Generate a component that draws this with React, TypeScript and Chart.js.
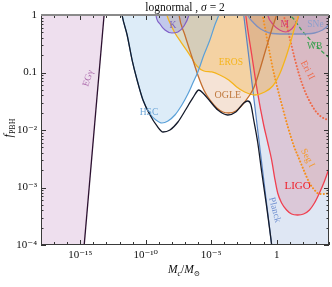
import { useEffect, useRef } from 'react';
import { Chart, registerables } from 'chart.js';

Chart.register(...registerables);

const SERIF = "'Liberation Serif', 'Times New Roman', 'DejaVu Serif', serif";

// Axis ticks
const xTickExps = [-15, -10, -5, 0];
const xTickLabels = ['10⁻¹⁵', '10⁻¹⁰', '10⁻⁵', '1'];
const yTickExps = [-4, -3, -2, -1, 0];
const yTickLabels = ['10⁻⁴', '10⁻³', '10⁻²', '0.1', '1'];

// Curves: log10(Mc/Msun) and log10(f_PBH)
const blackLogM = [-11.92, -11.81, -11.42, -11.04, -10.66, -10.21, -9.67, -9.14, -8.68, -8.15, -7.54, -7.01, -6.40, -5.94, -5.56, -5.10, -4.49, -3.73, -3.12, -2.51, -2.21, -1.98, -1.75, -1.45, -1.14, -0.76, -0.38, -0.27];
const blackLogF = [0.174, 0, -0.348, -0.783, -1.130, -1.478, -1.739, -1.930, -2.035, -2.000, -1.861, -1.670, -1.443, -1.304, -1.374, -1.496, -1.652, -1.739, -1.687, -1.530, -1.496, -1.548, -1.826, -2.209, -2.730, -3.339, -4.0, -4.226];

const egLogM = [-18.5, -15.08, -12.99];
const egLogF = [-14.0, -5.0, 0.5];

const hscLogM = [-11.92, -11.81, -11.42, -11.04, -10.66, -10.21, -9.67, -9.22, -8.76, -8.30, -7.77, -7.24, -6.78, -6.40, -6.02, -5.56, -5.10, -4.72, -4.42, -4.19];
const hscLogF = [0.174, 0, -0.348, -0.783, -1.130, -1.478, -1.722, -1.826, -1.878, -1.843, -1.739, -1.565, -1.374, -1.183, -0.991, -0.696, -0.435, -0.174, 0, 0.174];

const kLogM = [-9.29, -9.22, -8.91, -8.53, -8.00, -7.54, -7.08, -6.70, -6.55];
const kLogF = [0.174, 0, -0.157, -0.261, -0.313, -0.296, -0.191, 0, 0.174];

const ogleLogM = [-7.54, -7.46, -7.01, -6.47, -6.02, -5.56, -5.10, -4.57, -4.11, -3.66, -3.12, -2.44, -1.75, -1.29, -0.84, -0.38, 0, 0.23];
const ogleLogF = [0.174, 0, -0.348, -0.730, -1.043, -1.304, -1.478, -1.617, -1.687, -1.704, -1.670, -1.513, -1.270, -0.957, -0.609, -0.261, 0, 0.174];

const erosLogM = [-8.53, -8.38, -8.07, -7.77, -7.31, -6.63, -6.09, -5.56, -4.95, -4.34, -3.66, -3.05, -2.44, -1.68, -0.91, -0.30, 0.23, 0.69, 1.07, 1.37, 1.68, 1.83];
const erosLogF = [0.174, 0, -0.174, -0.313, -0.470, -0.696, -0.887, -0.974, -0.991, -1.043, -1.130, -1.252, -1.339, -1.391, -1.339, -1.235, -1.026, -0.748, -0.470, -0.226, 0, 0.174];

const planckLogM = [-2.78, -0.38, 0.15, 4.5];
const planckLogF = [0.5, -4.0, -5.0, -20];

const ligoLogM = [-2.44, -2.36, -1.90, -1.45, -0.99, -0.69, -0.38, -0.15, 0.08, 0.38, 0.76, 1.14, 1.60, 2.06, 2.51, 2.89, 3.27, 3.66, 3.96, 4.34];
const ligoLogF = [0.174, 0, -0.696, -1.357, -1.913, -2.209, -2.522, -2.835, -3.096, -3.270, -3.391, -3.461, -3.478, -3.461, -3.391, -3.270, -3.096, -2.887, -2.696, -2.435];

const sneLogM = [-2.44, -2.21, -1.75, -1.22, -0.53, 0.61, 1.75, 2.89, 3.50, 3.96, 4.49];
const sneLogF = [0.174, 0, -0.139, -0.243, -0.313, -0.330, -0.330, -0.313, -0.261, -0.174, 0.052];

const mLogM = [-0.84, -0.69, -0.23, 0.23, 0.69, 1.14, 1.52, 1.68, 1.75];
const mLogF = [0.174, 0, -0.174, -0.261, -0.296, -0.243, -0.122, 0, 0.174];

const segLogM = [-1.22, -1.07, -0.69, -0.30, 0.08, 0.46, 0.84, 1.29, 1.75, 2.13, 2.51, 2.89, 3.27, 3.73, 4.19];
const segLogF = [0.174, 0, -0.470, -0.922, -1.287, -1.617, -1.930, -2.261, -2.522, -2.730, -2.922, -3.043, -3.113, -3.113, -3.061];

const eriLogM = [0.38, 0.53, 0.76, 1.07, 1.37, 1.68, 2.06, 2.51, 2.97, 3.43, 4.19];
const eriLogF = [0.174, 0, -0.174, -0.470, -0.748, -1.009, -1.270, -1.496, -1.670, -1.774, -1.843];

const wbLogM = [0.69, 0.99, 1.37, 1.90, 2.44, 2.97, 3.43, 3.96, 4.42];
const wbLogF = [0.174, 0.017, -0.087, -0.261, -0.400, -0.522, -0.626, -0.730, -0.817];

// Region labels (text, log10 M, log10 f, rotation deg, color, font size)
const regionLabels = [
  { text: 'EGγ', lm: -14.39, lf: -1.10, rot: -72, color: '#b070b0', size: 9.5 },
  { text: 'HSC', lm: -9.75, lf: -1.69, rot: 0, color: '#6ca6d8', size: 9.5 },
  { text: 'K', lm: -7.92, lf: -0.19, rot: 0, color: '#7a60c0', size: 9.5 },
  { text: 'EROS', lm: -3.5, lf: -0.82, rot: 0, color: '#f5b51c', size: 9.5 },
  { text: 'OGLE', lm: -3.73, lf: -1.39, rot: 0, color: '#c07a40', size: 10 },
  { text: 'M', lm: 0.61, lf: -0.17, rot: 0, color: '#d03c78', size: 9.5 },
  { text: 'SNe', lm: 2.97, lf: -0.17, rot: 0, color: '#8ea0cc', size: 9.5 },
  { text: 'WB', lm: 2.9, lf: -0.55, rot: 0, color: '#3aa050', size: 9.5 },
  { text: 'Eri II', lm: 2.36, lf: -0.96, rot: 62, color: '#f06a4a', size: 9.5 },
  { text: 'Seg I', lm: 2.36, lf: -2.49, rot: 62, color: '#f59a2a', size: 9.5 },
  { text: 'LIGO', lm: 1.6, lf: -2.97, rot: 0, color: '#f0202c', size: 11 },
  { text: 'Planck', lm: -0.15, lf: -3.39, rot: 75, color: '#6e8ed0', size: 9.5 },
];

const pts = (lm: number[], lf: number[]) => lm.map((m, i) => ({ x: 10 ** m, y: 10 ** lf[i] }));

function curve(lm: number[], lf: number[], color: string, fillColor: string | null, width = 1.2, extra: any = {}) {
  return {
    data: pts(lm, lf),
    borderColor: color,
    borderWidth: width,
    backgroundColor: fillColor || 'rgba(0,0,0,0)',
    fill: fillColor ? 'end' : false,
    pointRadius: 0,
    cubicInterpolationMode: 'monotone',
    capBezierPoints: false,
    clip: 0,
    ...extra,
  };
}

type Run = { t: string; font: string; dy?: number };
function drawRuns(ctx: CanvasRenderingContext2D, runs: Run[], cx: number, baseY: number) {
  let total = 0;
  for (const r of runs) { ctx.font = r.font; total += ctx.measureText(r.t).width; }
  let x = cx - total / 2;
  ctx.textAlign = 'left';
  ctx.textBaseline = 'alphabetic';
  for (const r of runs) {
    ctx.font = r.font;
    ctx.fillText(r.t, x, baseY + (r.dy || 0));
    x += ctx.measureText(r.t).width;
  }
}

const decor = {
  id: 'decor',
  afterDatasetsDraw(chart: any) {
    const { ctx, chartArea: a } = chart;
    const xs = chart.scales.x, ys = chart.scales.y;
    ctx.save();
    for (const L of regionLabels) {
      const px = xs.getPixelForValue(10 ** L.lm), py = ys.getPixelForValue(10 ** L.lf);
      ctx.save();
      ctx.translate(px, py);
      ctx.rotate((L.rot * Math.PI) / 180);
      ctx.font = `${L.size}px ${SERIF}`;
      ctx.fillStyle = L.color;
      ctx.textAlign = 'center';
      ctx.textBaseline = 'middle';
      ctx.fillText(L.text, 0, 0);
      ctx.restore();
    }
    // inward ticks on all four sides
    ctx.strokeStyle = '#333';
    ctx.lineWidth = 1;
    ctx.beginPath();
    for (let e = -18; e <= 4; e++) {
      const px = Math.round(xs.getPixelForValue(10 ** e)) + 0.5;
      const len = xTickExps.includes(e) ? 5 : 3;
      ctx.moveTo(px, a.bottom); ctx.lineTo(px, a.bottom - len);
      ctx.moveTo(px, a.top); ctx.lineTo(px, a.top + len);
    }
    for (let e = -4; e <= 0; e++) {
      for (let k = 1; k <= 9; k++) {
        if (e === 0 && k > 1) break;
        const py = Math.round(ys.getPixelForValue(k * 10 ** e)) + 0.5;
        const len = k === 1 ? 5 : 2.5;
        ctx.moveTo(a.left, py); ctx.lineTo(a.left + len, py);
        ctx.moveTo(a.right, py); ctx.lineTo(a.right - len, py);
      }
    }
    ctx.stroke();
    // frame
    ctx.strokeStyle = '#3a3a3a';
    ctx.strokeRect(a.left + 0.5, a.top + 0.5, a.right - a.left - 1, a.bottom - a.top - 1);
    ctx.fillStyle = '#8a8a8a';
    ctx.fillRect(a.left, a.top - 1, a.right - a.left, 2);
    ctx.restore();
  },
  afterDraw(chart: any) {
    const { ctx, chartArea: a } = chart;
    ctx.save();
    ctx.fillStyle = '#111';
    drawRuns(ctx, [
      { t: 'lognormal , ', font: `11.5px ${SERIF}` },
      { t: 'σ', font: `italic 11.5px ${SERIF}` },
      { t: ' = 2', font: `11.5px ${SERIF}` },
    ], (a.left + a.right) / 2, 11);
    drawRuns(ctx, [
      { t: 'M', font: `italic 11.5px ${SERIF}` },
      { t: 'c', font: `italic 8px ${SERIF}`, dy: 2.5 },
      { t: '/', font: `11.5px ${SERIF}` },
      { t: 'M', font: `italic 11.5px ${SERIF}` },
      { t: '⊙', font: `7.5px ${SERIF}`, dy: 2.5 },
    ], 184, 273);
    ctx.save();
    ctx.translate(12, 128);
    ctx.rotate(-Math.PI / 2);
    drawRuns(ctx, [
      { t: 'f', font: `italic 12px ${SERIF}` },
      { t: 'PBH', font: `8px ${SERIF}`, dy: 2.5 },
    ], 0, 0);
    ctx.restore();
    ctx.restore();
  },
};

export default function App() {
  const ref = useRef<HTMLCanvasElement>(null);
  useEffect(() => {
    document.body.style.margin = '0';
    const datasets: any[] = [
      curve(blackLogM, blackLogF, '#141a2a', null, 1.3),
      curve(egLogM, egLogF, '#2c1030', 'rgba(200,150,200,0.3)', 1.3, { cubicInterpolationMode: 'default', tension: 0 }),
      curve(hscLogM, hscLogF, '#5aa0d8', 'rgba(150,195,232,0.32)'),
      curve(kLogM, kLogF, '#8060c8', 'rgba(140,110,200,0.35)'),
      curve(ogleLogM, ogleLogF, '#c46e2e', 'rgba(215,145,90,0.25)', 1.3),
      curve(erosLogM, erosLogF, '#f5b41c', 'rgba(250,190,60,0.35)', 1.3),
      curve(planckLogM, planckLogF, '#5a84c4', 'rgba(150,175,220,0.3)', 1.2, { cubicInterpolationMode: 'default', tension: 0 }),
      curve(ligoLogM, ligoLogF, '#f04050', 'rgba(235,95,110,0.28)', 1.3),
      curve(sneLogM, sneLogF, '#7f90c0', 'rgba(130,140,190,0.3)', 1.3),
      curve(mLogM, mLogF, '#d04884', 'rgba(215,70,130,0.25)'),
      curve(segLogM, segLogF, '#f5901c', 'rgba(245,150,60,0.12)', 2, { borderDash: [0.1, 3.2], borderCapStyle: 'round' }),
      curve(eriLogM, eriLogF, '#f06a48', 'rgba(240,110,80,0.1)', 2, { borderDash: [0.1, 3.2], borderCapStyle: 'round' }),
      curve(wbLogM, wbLogF, '#3ea055', null, 1.3, { borderDash: [4, 2.5] }),
    ];
    const chart = new Chart(ref.current as HTMLCanvasElement, {
      type: 'line',
      data: { datasets },
      options: {
        responsive: false,
        animation: false,
        devicePixelRatio: 1,
        events: [],
        layout: { padding: { left: 0, right: 3, top: 15, bottom: 0 } },
        plugins: {
          legend: { display: false },
          tooltip: { enabled: false },
          filler: { drawTime: 'beforeDatasetsDraw' },
        } as any,
        scales: {
          x: {
            type: 'logarithmic',
            min: 1e-18,
            max: 1e4,
            grid: { display: false, drawTicks: false },
            border: { display: false },
            ticks: {
              autoSkip: false, maxRotation: 0, minRotation: 0, padding: 4,
              font: { family: SERIF, size: 11 }, color: '#111',
              callback: (_v: any, i: number) => xTickLabels[i],
            },
            afterBuildTicks: (s: any) => { s.ticks = xTickExps.map((e) => ({ value: 10 ** e })); },
            afterFit: (s: any) => { s.height = 42; },
          },
          y: {
            type: 'logarithmic',
            min: 1e-4,
            max: 1,
            grid: { display: false, drawTicks: false },
            border: { display: false },
            ticks: {
              autoSkip: false, padding: 4,
              font: { family: SERIF, size: 11 }, color: '#111',
              callback: (_v: any, i: number) => yTickLabels[i],
            },
            afterBuildTicks: (s: any) => { s.ticks = yTickExps.map((e) => ({ value: 10 ** e })); },
            afterFit: (s: any) => { s.width = 41; },
          },
        } as any,
      },
      plugins: [decor],
    } as any);
    return () => chart.destroy();
  }, []);
  return <canvas ref={ref} width={332} height={287} style={{ display: 'block' }} />;
}
